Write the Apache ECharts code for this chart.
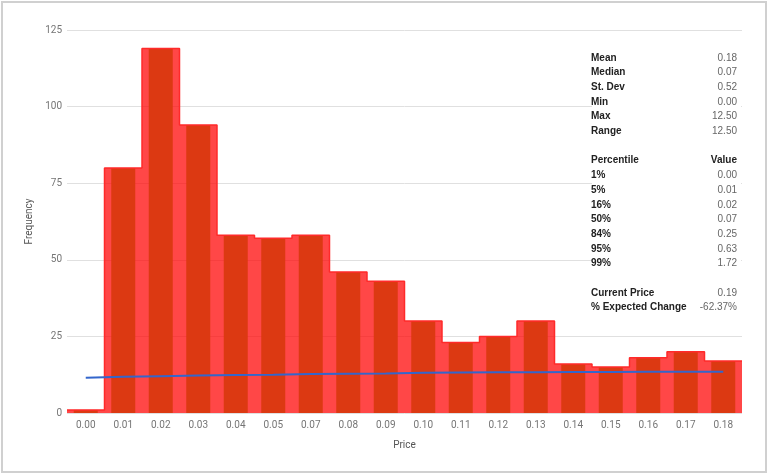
<!DOCTYPE html>
<html>
<head>
<meta charset="utf-8">
<script src="https://cdn.jsdelivr.net/npm/echarts@6/dist/echarts.min.js"></script>
<style>
html,body{margin:0;padding:0;background:#fff;}
#chart{width:768px;height:474px;}
</style>
</head>
<body>
<div id="chart"></div>
<script>
var categories = ['0.00','0.01','0.02','0.03','0.04','0.05','0.07','0.08','0.09','0.10','0.11','0.12','0.13','0.14','0.15','0.16','0.17','0.18'];
var frequency = [1, 80, 119, 94, 58, 57, 58, 46, 43, 30, 23, 25, 30, 16, 15, 18, 20, 17];
var normalFit = [11.5, 11.8, 12.0, 12.2, 12.4, 12.5, 12.7, 12.8, 12.9, 13.1, 13.2, 13.3, 13.3, 13.4, 13.4, 13.5, 13.5, 13.5];
var yTicks = [0, 25, 50, 75, 100, 125];
var statLabels = ['Mean','Median','St. Dev','Min','Max','Range','','Percentile','1%','5%','16%','50%','84%','95%','99%','','Current Price','% Expected Change'];
var statValues = ['0.18','0.07','0.52','0.00','12.50','12.50','','Value','0.00','0.01','0.02','0.07','0.25','0.63','1.72','','0.19','-62.37%'];

// step outline built from the histogram counts (each bin spans its whole category)
var stepData = [];
frequency.forEach(function (v, i) {
  stepData.push([i - 0.5, v]);
  stepData.push([i + 0.5, v]);
});

var graphics = [
  { type: 'rect', z: 0, silent: true,
    shape: { x: 2, y: 2, width: 764, height: 470 },
    style: { fill: 'none', stroke: '#d0d0d0', lineWidth: 2 } },
  { type: 'rect', z: 50, silent: true,
    shape: { x: 592, y: 47, width: 149, height: 268 },
    style: { fill: '#ffffff' } }
];
statLabels.forEach(function (lab, k) {
  if (!lab) return;
  var y = 57.8 + 14.7 * k;
  graphics.push({ type: 'text', z: 51, silent: true, x: 591, y: y,
    style: { text: lab, fill: '#222', font: 'bold 10px "Liberation Sans", Arial, sans-serif',
      textAlign: 'left', textVerticalAlign: 'middle' } });
  var isHeader = statValues[k] === 'Value';
  graphics.push({ type: 'text', z: 51, silent: true, x: 737, y: y,
    style: { text: statValues[k], fill: isHeader ? '#222' : '#666',
      font: (isHeader ? 'bold ' : '') + '10px "Liberation Sans", Arial, sans-serif',
      textAlign: 'right', textVerticalAlign: 'middle' } });
});

var chart = echarts.init(document.getElementById('chart'), null, { renderer: 'canvas' });
chart.setOption({
  animation: false,
  backgroundColor: '#ffffff',
  grid: { left: 67, right: 26, top: 30, bottom: 61, containLabel: false },
  xAxis: [
    { type: 'category', data: categories, boundaryGap: true,
      axisLine: { show: false }, axisTick: { show: false },
      axisLabel: { color: '#757575', fontSize: 10, fontFamily: 'Roboto', margin: 7 },
      name: 'Price', nameLocation: 'middle', nameGap: 27,
      nameTextStyle: { color: '#555', fontSize: 10, fontFamily: 'Roboto' } },
    { type: 'value', min: -0.5, max: categories.length - 0.5, show: false }
  ],
  yAxis: {
    type: 'value', min: yTicks[0], max: yTicks[yTicks.length - 1], interval: 25,
    axisLine: { show: false }, axisTick: { show: false },
    axisLabel: { color: '#757575', fontSize: 10, fontFamily: 'Roboto', margin: 5 },
    splitLine: { lineStyle: { color: '#e0e0e0', width: 1 } },
    name: 'Frequency', nameLocation: 'middle', nameGap: 31, nameRotate: 90,
    nameTextStyle: { color: '#555', fontSize: 10, fontFamily: 'Roboto' }
  },
  series: [
    { type: 'line', xAxisIndex: 1, data: stepData, z: 1, silent: true,
      showSymbol: false, symbol: 'none',
      lineStyle: { width: 0, color: 'rgba(255,0,0,0)' },
      areaStyle: { color: '#ff0000', opacity: 0.72, origin: 0 } },
    { type: 'bar', xAxisIndex: 0, data: frequency, z: 2, barWidth: 24, silent: true,
      itemStyle: { color: '#dc3912' } },
    { type: 'line', xAxisIndex: 1, data: stepData, z: 3, silent: true,
      showSymbol: false, symbol: 'none',
      lineStyle: { width: 1.5, color: '#ff2a2a' } },
    { type: 'line', xAxisIndex: 0, data: normalFit, z: 4, silent: true,
      showSymbol: false, symbol: 'none',
      lineStyle: { width: 2, color: '#3366cc' } }
  ],
  graphic: graphics
});
</script>
</body>
</html>
